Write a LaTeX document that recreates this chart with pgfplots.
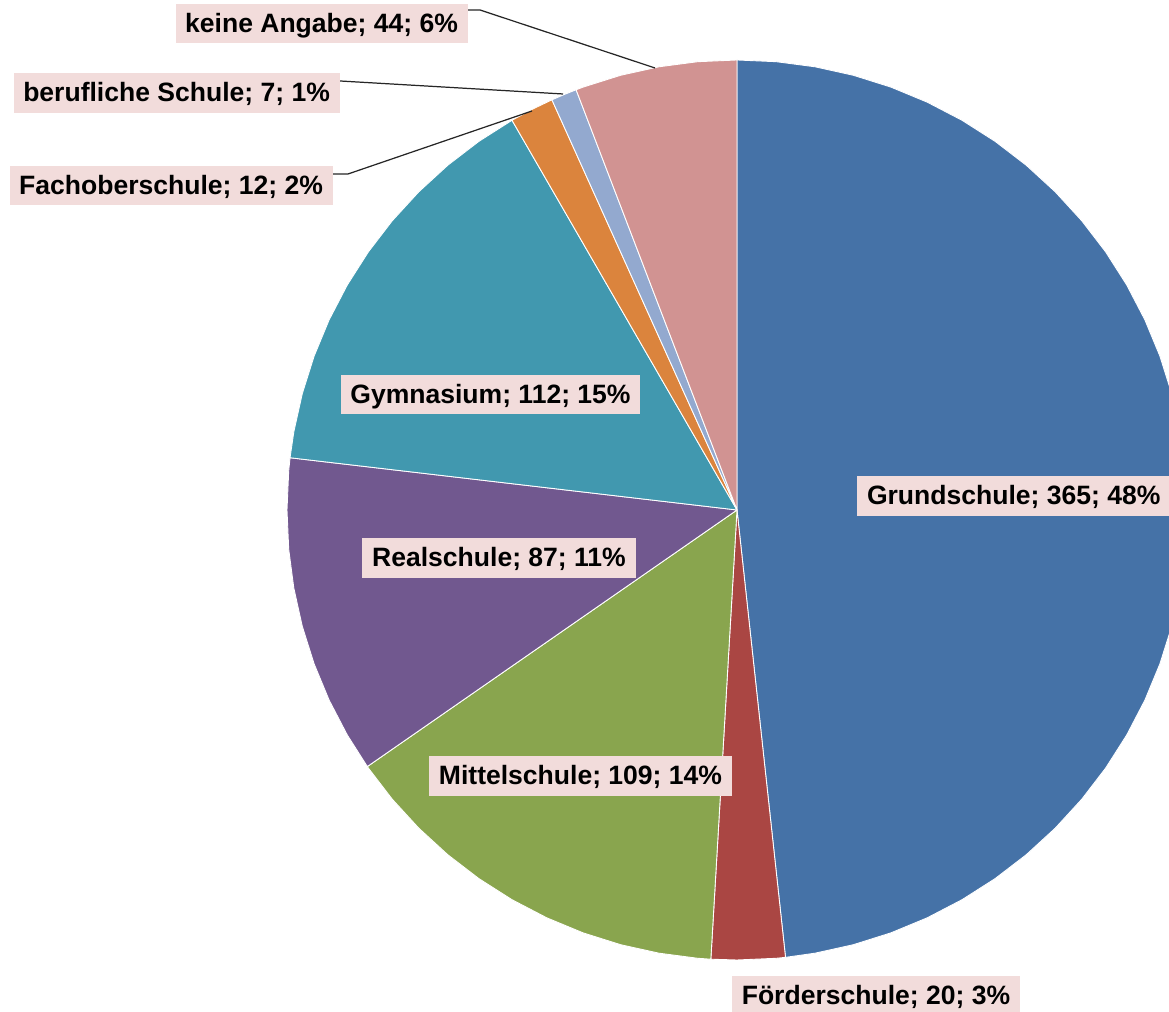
\documentclass[border=0pt]{standalone}
\usepackage{pgfplots}
\pgfplotsset{compat=1.18}
\usepackage{fontspec}
\setmainfont{Liberation Sans}
\definecolor{cGrund}{HTML}{4572A7}
\definecolor{cFoerder}{HTML}{AA4643}
\definecolor{cMittel}{HTML}{89A54E}
\definecolor{cReal}{HTML}{71588F}
\definecolor{cGym}{HTML}{4198AF}
\definecolor{cFOS}{HTML}{DB843D}
\definecolor{cBeruf}{HTML}{93A9CF}
\definecolor{cKeine}{HTML}{D19392}
\definecolor{cLabel}{HTML}{F2DCDB}
\tikzset{
  lbl/.style={fill=cLabel, text=black, font=\fontsize{15.1}{17}\selectfont\bfseries,
    inner xsep=5.5pt, inner ysep=4.2pt, text height=12pt, text depth=2pt},
}
\pgfplotsset{
  wedge/.style={data cs=polar, draw=white, line width=0.5pt, mark=none},
}
\begin{document}
\begin{tikzpicture}
\begin{axis}[
  x=0.2mm, y=0.2mm,
  xmin=-737, xmax=432, ymin=-502, ymax=510,
  enlargelimits=false,
  hide axis,
  clip=true,
]
% Grundschule 365
\addplot[wedge, fill=cGrund] coordinates {(0,0) (90,450) (85,450) (80,450) (75,450) (70,450) (65,450) (60,450) (55,450) (50,450) (45,450) (40,450) (35,450) (30,450) (25,450) (20,450) (15,450) (10,450) (5,450) (0,450) (-5,450) (-10,450) (-15,450) (-20,450) (-25,450) (-30,450) (-35,450) (-40,450) (-45,450) (-50,450) (-55,450) (-60,450) (-65,450) (-70,450) (-75,450) (-80,450) (-83.81,450) (0,0)};
% Foerderschule 20
\addplot[wedge, fill=cFoerder] coordinates {(0,0) (-83.81,450) (-85,450) (-90,450) (-93.333,450) (0,0)};
% Mittelschule 109
\addplot[wedge, fill=cMittel] coordinates {(0,0) (-93.333,450) (-95,450) (-100,450) (-105,450) (-110,450) (-115,450) (-120,450) (-125,450) (-130,450) (-135,450) (-140,450) (-145,450) (-145.238,450) (0,0)};
% Realschule 87
\addplot[wedge, fill=cReal] coordinates {(0,0) (-145.238,450) (-150,450) (-155,450) (-160,450) (-165,450) (-170,450) (-175,450) (-180,450) (-185,450) (-186.667,450) (0,0)};
% Gymnasium 112
\addplot[wedge, fill=cGym] coordinates {(0,0) (-186.667,450) (-190,450) (-195,450) (-200,450) (-205,450) (-210,450) (-215,450) (-220,450) (-225,450) (-230,450) (-235,450) (-240,450) (0,0)};
% Fachoberschule 12
\addplot[wedge, fill=cFOS] coordinates {(0,0) (-240,450) (-243,450) (-245.714,450) (0,0)};
% berufliche Schule 7
\addplot[wedge, fill=cBeruf] coordinates {(0,0) (-245.714,450) (-247.5,450) (-249.048,450) (0,0)};
% keine Angabe 44
\addplot[wedge, fill=cKeine] coordinates {(0,0) (-249.048,450) (-250,450) (-255,450) (-260,450) (-265,450) (-270,450) (0,0)};
% leader lines
\addplot[black!85, line width=0.7pt, mark=none] coordinates {(-269,500) (-257,500) (-82,442)};
\addplot[black!85, line width=0.7pt, mark=none] coordinates {(-397,429) (-174,416)};
\addplot[black!85, line width=0.7pt, mark=none] coordinates {(-404,336) (-389,336) (-205,399)};
% labels
\node[lbl, anchor=east] at (axis cs:-269,486.5) {keine Angabe; 44; 6\%};
\node[lbl, anchor=east] at (axis cs:-397,417) {berufliche Schule; 7; 1\%};
\node[lbl, anchor=east] at (axis cs:-404,324.5) {Fachoberschule; 12; 2\%};
\node[lbl] at (axis cs:-246.5,115.5) {Gymnasium; 112; 15\%};
\node[lbl] at (axis cs:-238,-48) {Realschule; 87; 11\%};
\node[lbl] at (axis cs:-156.5,-266) {Mittelschule; 109; 14\%};
\node[lbl] at (axis cs:139,-485.5) {Förderschule; 20; 3\%};
\node[lbl, anchor=west] at (axis cs:120,14) {Grundschule; 365; 48\%};
\end{axis}
\pgfresetboundingbox
\path[use as bounding box] (current axis.south west) rectangle (current axis.north east);
\end{tikzpicture}
\end{document}
